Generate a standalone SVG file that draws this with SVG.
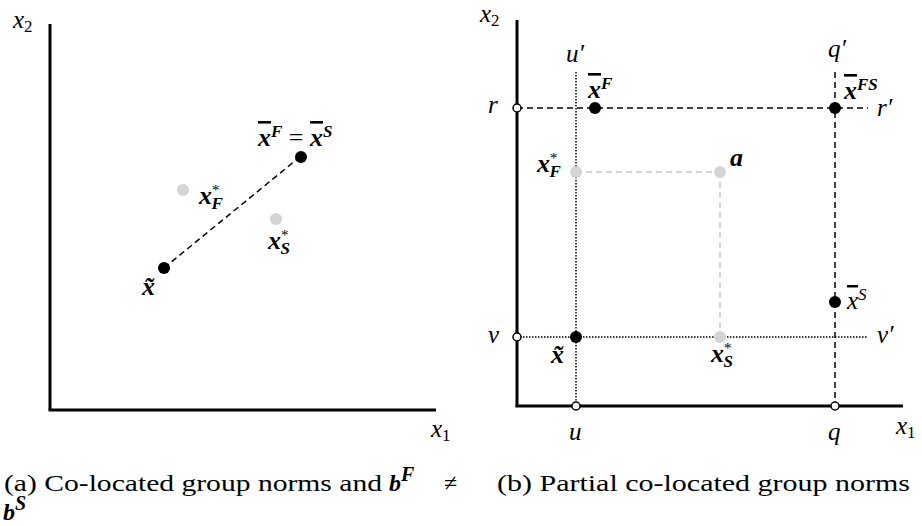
<svg xmlns="http://www.w3.org/2000/svg" width="922" height="526" viewBox="0 0 922 526">
<style>
.axis{stroke:#000;stroke-width:3;fill:none}
.dash{stroke:#000;stroke-width:1.5;stroke-dasharray:6,4;fill:none}
.dot{stroke:#000;stroke-width:1.5;stroke-dasharray:1.5,1.5;fill:none}
.gdash{stroke:#c8c8c8;stroke-width:1.5;stroke-dasharray:6,4;fill:none}
.bk{fill:#000}
.gr{fill:#d4d4d4}
.op{fill:#fff;stroke:#000;stroke-width:1.5}
.m{font-family:'Liberation Serif','Times New Roman',serif;font-style:italic;font-size:25px;fill:#000}
.mb{font-family:'Liberation Serif','Times New Roman',serif;font-style:italic;font-weight:bold;font-size:26px;fill:#000}
.cap{font-family:'Liberation Serif','Times New Roman',serif;font-size:24px;fill:#000}
.ov{text-decoration:overline}
</style>

<!-- Panel (a) -->
<g id="a-axes">
  <line class="axis" x1="50" y1="24" x2="50" y2="410"/>
  <line class="axis" x1="48.5" y1="410" x2="436" y2="410"/>
  <text class="m" x="13" y="28">x<tspan font-style="normal" font-size="17" dy="4">2</tspan></text>
  <text class="m" x="431" y="437">x<tspan font-style="normal" font-size="17" dy="4">1</tspan></text>
</g>
<g id="a-connectors">
  <line class="dash" x1="164" y1="268" x2="301" y2="156"/>
</g>
<g id="a-xbar">
  <circle class="bk" cx="301" cy="157" r="6"/>
  <text class="mb" x="258" y="146"><tspan class="ov">x</tspan><tspan font-size="17" dy="-9">F</tspan><tspan font-style="normal" font-weight="normal" dy="9"> = </tspan><tspan class="ov">x</tspan><tspan font-size="17" dy="-9">S</tspan></text>
</g>
<g id="a-xF">
  <circle class="gr" cx="183" cy="190" r="6"/>
  <text class="mb" x="199" y="204">x<tspan font-size="15" font-weight="normal" font-style="normal" dy="-9">*</tspan><tspan font-size="17" dx="-8" dy="14">F</tspan></text>
</g>
<g id="a-xS">
  <circle class="gr" cx="276" cy="219" r="6"/>
  <text class="mb" x="268" y="249">x<tspan font-size="15" font-weight="normal" font-style="normal" dy="-9">*</tspan><tspan font-size="17" dx="-8" dy="14">S</tspan></text>
</g>
<g id="a-xtilde">
  <circle class="bk" cx="164" cy="268" r="6"/>
  <text class="mb" x="142" y="295">x&#x303;</text>
</g>

<!-- Panel (b) -->
<g id="b-axes">
  <line class="axis" x1="517" y1="20" x2="517" y2="407"/>
  <line class="axis" x1="515.5" y1="406" x2="903" y2="406"/>
  <text class="m" x="480" y="22">x<tspan font-style="normal" font-size="17" dy="4">2</tspan></text>
  <text class="m" x="896" y="434">x<tspan font-style="normal" font-size="17" dy="4">1</tspan></text>
</g>
<g id="b-connectors">
  <line class="dash" x1="517" y1="108" x2="868" y2="108"/>
  <line class="dot" x1="517" y1="337" x2="868" y2="337"/>
  <line class="dot" x1="576" y1="72" x2="576" y2="406"/>
  <line class="dash" x1="835" y1="72" x2="835" y2="406"/>
  <line class="gdash" x1="576" y1="172" x2="720" y2="172"/>
  <line class="gdash" x1="720" y1="172" x2="720" y2="337"/>
</g>
<g id="b-r">
  <circle class="op" cx="517" cy="108" r="4"/>
  <text class="m" x="488" y="113">r</text>
</g>
<g id="b-rp"><text class="m" x="877" y="116">r′</text></g>
<g id="b-v">
  <circle class="op" cx="517" cy="337" r="4"/>
  <text class="m" x="488" y="343">v</text>
</g>
<g id="b-vp"><text class="m" x="877" y="343">v′</text></g>
<g id="b-u">
  <circle class="op" cx="576" cy="406" r="4"/>
  <text class="m" x="569" y="440">u</text>
</g>
<g id="b-up"><text class="m" x="566" y="62">u′</text></g>
<g id="b-q">
  <circle class="op" cx="835" cy="406" r="4"/>
  <text class="m" x="828" y="440">q</text>
</g>
<g id="b-qp"><text class="m" x="828" y="57">q′</text></g>
<g id="b-xbarF">
  <circle class="bk" cx="595" cy="108" r="6"/>
  <text class="mb" x="588" y="98"><tspan class="ov">x</tspan><tspan font-size="17" dy="-9">F</tspan></text>
</g>
<g id="b-xbarFS">
  <circle class="bk" cx="835" cy="108" r="6"/>
  <text class="mb" x="844" y="99"><tspan class="ov">x</tspan><tspan font-size="17" dy="-9">FS</tspan></text>
</g>
<g id="b-xF">
  <circle class="gr" cx="576" cy="172" r="6"/>
  <text class="mb" x="537" y="172">x<tspan font-size="15" font-weight="normal" font-style="normal" dy="-9">*</tspan><tspan font-size="17" dx="-8" dy="14">F</tspan></text>
</g>
<g id="b-a">
  <circle class="gr" cx="720" cy="172" r="6"/>
  <text class="mb" x="730" y="166">a</text>
</g>
<g id="b-xtilde">
  <circle class="bk" cx="576" cy="337" r="6"/>
  <text class="mb" x="551" y="363">x&#x303;</text>
</g>
<g id="b-xS">
  <circle class="gr" cx="720" cy="337" r="6"/>
  <text class="mb" x="711" y="362">x<tspan font-size="15" font-weight="normal" font-style="normal" dy="-9">*</tspan><tspan font-size="17" dx="-8" dy="14">S</tspan></text>
</g>
<g id="b-xbarS">
  <circle class="bk" cx="835" cy="302" r="6"/>
  <text class="m" x="847" y="309"><tspan class="ov">x</tspan><tspan font-size="17" dy="-9">S</tspan></text>
</g>

<!-- Captions -->
<g id="captions">
  <text class="cap" x="4" y="491" textLength="378" lengthAdjust="spacingAndGlyphs">(a) Co-located group norms and</text>
  <text class="cap" x="389" y="491" font-size="28" font-weight="bold" font-style="italic">b<tspan font-size="20" dy="-10">F</tspan></text>
  <text class="cap" x="444" y="491">≠</text>
  <text class="cap" x="3" y="520" font-size="28" font-weight="bold" font-style="italic">b<tspan font-size="20" dy="-10">S</tspan></text>
  <text class="cap" x="497" y="491" textLength="413" lengthAdjust="spacingAndGlyphs">(b) Partial co-located group norms</text>
</g>
</svg>
